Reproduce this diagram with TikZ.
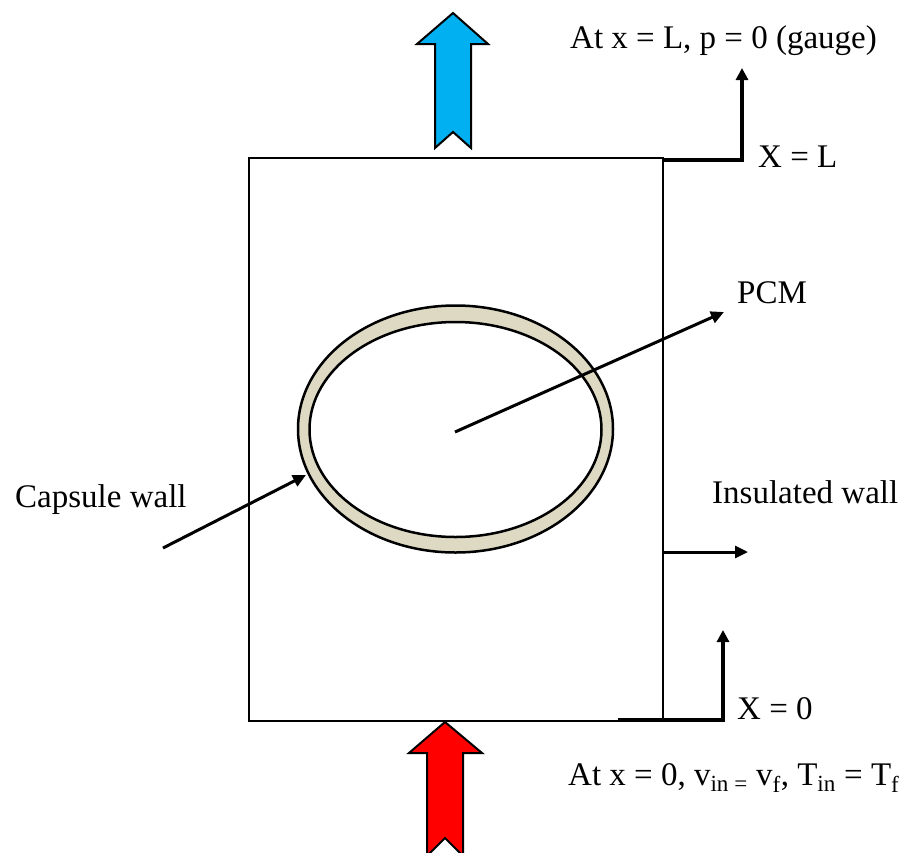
\documentclass[tikz,border=0pt]{standalone}
\usepackage{fontspec}
\setmainfont{Liberation Serif}
\usetikzlibrary{arrows.meta, shapes.geometric}
\definecolor{flowIn} {HTML}{FF0000}
\definecolor{flowOut}{HTML}{00B0F0}
\definecolor{shell}  {HTML}{DDD9C3}

\begin{document}
\begin{tikzpicture}[x=1pt, y=-1pt,
      lbl/.style ={font=\fontsize{33}{40}\selectfont, inner sep=0pt, anchor=base west},
      wall/.style={draw=black, line width=2pt},
      ring/.style={ellipse, draw=black, line width=2.5pt, inner sep=0pt},
      bracket/.style={line width=4pt, -{Triangle[length=12pt, width=12pt]}},
      ptr/.style ={line width=3pt, -{Triangle[length=13pt, width=12pt]}},
      flow/.style={draw=black, line width=2pt, line join=miter}]

    \useasboundingbox (0,0) rectangle (905,852);

    % channel and capsule
    \node[wall, minimum width=414pt, minimum height=563pt, inner sep=0pt,
          anchor=north west] (chan) at (248,157) {};
    \node[ring, fill=shell, minimum width=315pt, minimum height=247pt] (capsule) at (455.5,429) {};
    \node[ring, fill=white, minimum width=292pt, minimum height=215pt] (core) at (455.5,429.5) {};

    % outlet and inlet flow
    \draw[flow, fill=flowOut] (453,13) -- (488,44) -- (471,44) -- (471,148) -- (453,132)
        -- (435,148) -- (435,44) -- (417,44) -- cycle;
    \draw[flow, fill=flowIn] (445,722) -- (482,753) -- (463,753) -- (463,856) -- (445,838)
        -- (427,856) -- (427,753) -- (409,753) -- cycle;

    % labels
    \node[lbl] (gaugeLbl) at (570,48)  {At x = L, p = 0 (gauge)};
    \node[lbl] (xLLbl)    at (758,167) {X = L};
    \node[lbl] (pcmLbl)   at (737,303) {PCM};
    \node[lbl] (wallLbl)  at (15,507)  {Capsule wall};
    \node[lbl] (insLbl)   at (712,503) {Insulated wall};
    \node[lbl] (x0Lbl)    at (737,719) {X = 0};
    \node[lbl] (inletLbl) at (568,785)
        {At x = 0, v\textsubscript{in =} v\textsubscript{f}, T\textsubscript{in} = T\textsubscript{f}};

    % pointers
    \coordinate (topStart) at (662,160);
    \coordinate (topEnd)   at (742,68);
    \coordinate (botStart) at (618,720);
    \coordinate (botEnd)   at (723,630);
    \coordinate (insStart) at (662,552);
    \coordinate (insEnd)   at (748,552);
    \coordinate (wallTail) at (163,548);
    \coordinate (wallTip)  at (306,475);
    \coordinate (pcmTail)  at (455,432);
    \coordinate (pcmTip)   at (724,312);

    \draw[bracket] (topStart) -| (topEnd);
    \draw[bracket] (botStart) -| (botEnd);
    \draw[ptr] (insStart) -- (insEnd);
    \draw[ptr] (wallTail) -- (wallTip);
    \draw[ptr] (pcmTail) -- (pcmTip);
\end{tikzpicture}
\end{document}
